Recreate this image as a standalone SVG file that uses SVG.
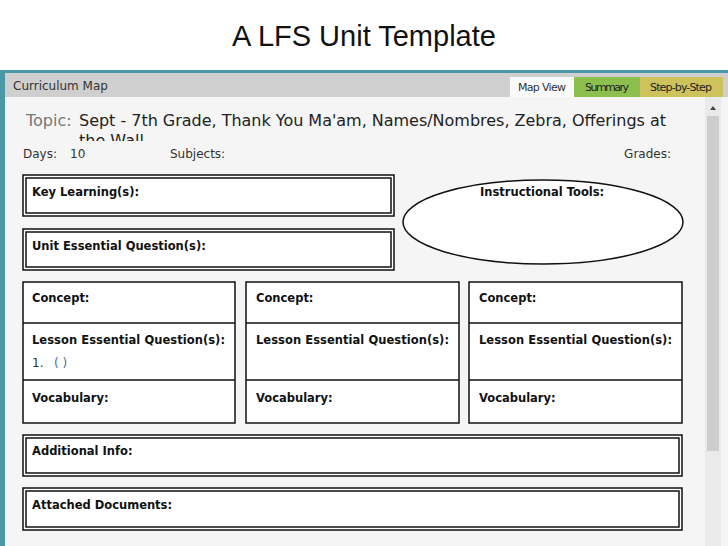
<svg xmlns="http://www.w3.org/2000/svg" width="728" height="546" viewBox="0 0 728 546">
<style>
.s{font-family:"DejaVu Sans",sans-serif;}
.b{font-family:"DejaVu Sans",sans-serif;font-weight:bold;font-size:11.5px;fill:#111}
.box{fill:#fff;stroke:#111;stroke-width:1.5}
.in{fill:none;stroke:#111;stroke-width:1.5}
</style>
<rect width="728" height="546" fill="#fff"/>
<text x="364" y="46" text-anchor="middle" font-family="Liberation Sans,sans-serif" font-size="29" fill="#111">A LFS Unit Template</text>
<rect x="0" y="70" width="728" height="476" fill="#4b97a6"/>
<rect x="5" y="73" width="723" height="473" fill="#f5f5f5"/>
<rect x="5" y="73" width="723" height="24" fill="#cfcfcf"/>
<text x="13" y="90" class="s" font-size="12" fill="#333">Curriculum Map</text>
<rect x="510" y="77" width="64" height="20" fill="#fafafa"/>
<text x="542" y="91" class="s" font-size="11" text-anchor="middle" fill="#333" textLength="48">Map View</text>
<rect x="574" y="77" width="66" height="20" fill="#8dbf4f"/>
<text x="607" y="91" class="s" font-size="11" text-anchor="middle" fill="#222" textLength="44">Summary</text>
<rect x="640" y="77" width="83" height="20" fill="#cdc25b"/>
<text x="681" y="91" class="s" font-size="11" text-anchor="middle" fill="#222" textLength="62">Step-by-Step</text>
<rect x="705" y="97" width="16" height="449" fill="#eaeaea"/>
<rect x="707" y="116" width="12" height="335" fill="#cdcdcd"/>
<path d="M710 110 L713 106 L716 110Z" fill="#444"/>
<text x="26" y="126" class="s" font-size="16" fill="#777">Topic:</text>
<text x="79" y="126" class="s" font-size="16" fill="#222" textLength="587">Sept - 7th Grade, Thank You Ma'am, Names/Nombres, Zebra, Offerings at</text>
<text x="79" y="146" class="s" font-size="16" fill="#222">the Wall</text>
<rect x="20" y="141" width="680" height="24" fill="#f5f5f5"/>
<text x="23" y="158" class="s" font-size="12" fill="#333">Days:</text>
<text x="70" y="158" class="s" font-size="12" fill="#333">10</text>
<text x="170" y="158" class="s" font-size="12" fill="#333">Subjects:</text>
<text x="671" y="158" class="s" font-size="12" fill="#333" text-anchor="end">Grades:</text>
<g id="key"><rect class="box" x="23" y="175" width="371" height="41"/><rect class="in" x="26" y="178" width="365" height="35"/><text class="b" x="32" y="196">Key Learning(s):</text></g>
<g id="ueq"><rect class="box" x="23" y="229" width="371" height="41"/><rect class="in" x="26" y="232" width="365" height="35"/><text class="b" x="32" y="250">Unit Essential Question(s):</text></g>
<g id="tools"><ellipse cx="543" cy="222" rx="140" ry="42" class="box"/><text class="b" x="480" y="196">Instructional Tools:</text></g>
<g id="col1"><rect class="box" x="23" y="282" width="212" height="141"/><path class="in" d="M23 323H235M23 380H235"/><text class="b" x="32" y="302">Concept:</text><text class="b" x="32" y="344" textLength="193">Lesson Essential Question(s):</text><text x="32" y="367" class="s" font-size="12" fill="#333">1.</text><text x="54" y="367" class="s" font-size="12" fill="#4a6a9a">( )</text><text class="b" x="32" y="402">Vocabulary:</text></g>
<g id="col2"><rect class="box" x="246" y="282" width="213" height="141"/><path class="in" d="M246 323H459M246 380H459"/><text class="b" x="256" y="302">Concept:</text><text class="b" x="256" y="344" textLength="193">Lesson Essential Question(s):</text><text class="b" x="256" y="402">Vocabulary:</text></g>
<g id="col3"><rect class="box" x="469" y="282" width="213" height="141"/><path class="in" d="M469 323H682M469 380H682"/><text class="b" x="479" y="302">Concept:</text><text class="b" x="479" y="344" textLength="193">Lesson Essential Question(s):</text><text class="b" x="479" y="402">Vocabulary:</text></g>
<g id="add"><rect class="box" x="23" y="435" width="659" height="41"/><rect class="in" x="26" y="438" width="653" height="35"/><text class="b" x="32" y="455">Additional Info:</text></g>
<g id="att"><rect class="box" x="23" y="488" width="659" height="42"/><rect class="in" x="26" y="491" width="653" height="36"/><text class="b" x="32" y="509">Attached Documents:</text></g>
<g id="connectors"/>
</svg>
